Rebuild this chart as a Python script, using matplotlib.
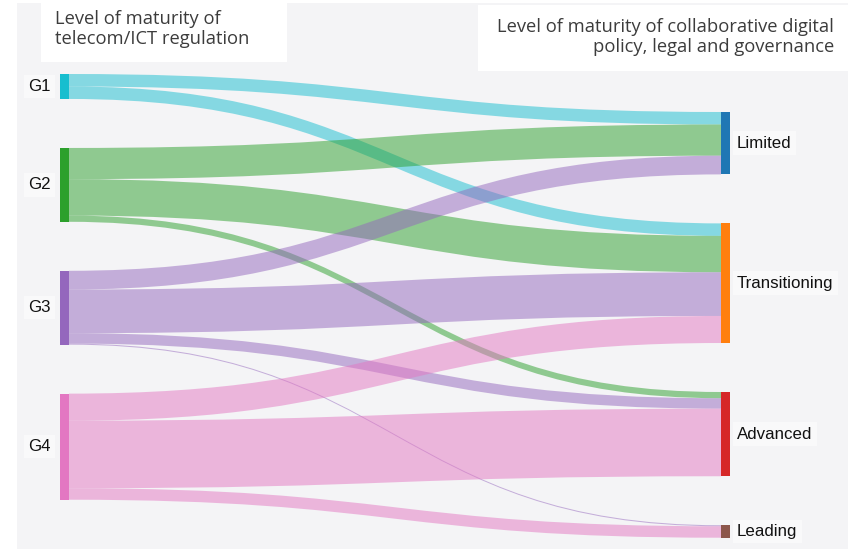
import matplotlib
matplotlib.use("Agg")
import matplotlib.pyplot as plt
from matplotlib.patches import Rectangle, PathPatch
from matplotlib.path import Path
import numpy as np

# ---- data ----
sources = ["G1", "G2", "G3", "G4"]
targets = ["Limited", "Transitioning", "Advanced", "Leading"]
# flow values (rows: sources, cols: targets)
flow_G1 = [6, 6, 0, 0]
flow_G2 = [15, 17.5, 3, 0]
flow_G3 = [9, 21, 5, 0.5]
flow_G4 = [0, 13, 32.5, 5.5]
flows = np.array([flow_G1, flow_G2, flow_G3, flow_G4], dtype=float)

src_colors = ["#17becf", "#2ca02c", "#9467bd", "#e377c2"]
tgt_colors = ["#1f77b4", "#ff7f0e", "#d62728", "#8c564b"]

title_left = "Level of maturity of\ntelecom/ICT regulation"
title_right = "Level of maturity of collaborative digital\npolicy, legal and governance"

# ---- layout (pixel space) ----
W, H = 854, 550
scale = 2.08          # px per unit
gap = 49
x_left0, x_left1 = 60, 69
x_right0, x_right1 = 721, 730
top_left, top_right = 74, 112

fig = plt.figure(figsize=(W / 100, H / 100), dpi=100)
fig.patch.set_facecolor("white")
ax = fig.add_axes([0, 0, 1, 1])
ax.set_xlim(0, W)
ax.set_ylim(H, 0)
ax.axis("off")

ax.add_patch(Rectangle((17, 3), 831, 546, facecolor="#f4f4f6", edgecolor="none", zorder=0))

src_tot = flows.sum(axis=1)
tgt_tot = flows.sum(axis=0)

src_y = []
y = top_left
for t in src_tot:
    src_y.append(y)
    y += t * scale + gap
tgt_y = []
y = top_right
for t in tgt_tot:
    tgt_y.append(y)
    y += t * scale + gap

# links
src_off = list(src_y)
tgt_off = list(tgt_y)
link_specs = []
for i in range(len(sources)):
    for j in range(len(targets)):
        v = flows[i, j]
        if v <= 0:
            continue
        h = v * scale
        s0 = src_off[i]; src_off[i] += h
        link_specs.append([i, j, s0, h])
for j in range(len(targets)):
    for spec in link_specs:
        if spec[1] == j:
            spec.append(tgt_off[j])
            tgt_off[j] += spec[3]

xm = (x_left1 + x_right0) / 2
for i, j, s0, h, t0 in link_specs:
    verts = [(x_left1, s0), (xm, s0), (xm, t0), (x_right0, t0),
             (x_right0, t0 + h), (xm, t0 + h), (xm, s0 + h), (x_left1, s0 + h),
             (x_left1, s0)]
    codes = [Path.MOVETO, Path.CURVE4, Path.CURVE4, Path.CURVE4,
             Path.LINETO, Path.CURVE4, Path.CURVE4, Path.CURVE4, Path.CLOSEPOLY]
    ax.add_patch(PathPatch(Path(verts, codes), facecolor=src_colors[i], alpha=0.5,
                           edgecolor="none", zorder=2))

# nodes
lab_font = ["Liberation Sans", "DejaVu Sans"]
bb = dict(boxstyle="square,pad=0.25", facecolor="white", alpha=0.5, edgecolor="none")
for i, name in enumerate(sources):
    h = src_tot[i] * scale
    ax.add_patch(Rectangle((x_left0, src_y[i]), x_left1 - x_left0, h,
                           facecolor=src_colors[i], edgecolor="none", zorder=3))
    ax.text(x_left0 - 9, src_y[i] + h / 2, name, ha="right", va="center",
            fontsize=12.2, family=lab_font, color="#111111", bbox=bb, zorder=4)
for j, name in enumerate(targets):
    h = tgt_tot[j] * scale
    ax.add_patch(Rectangle((x_right0, tgt_y[j]), x_right1 - x_right0, h,
                           facecolor=tgt_colors[j], edgecolor="none", zorder=3))
    ax.text(x_right1 + 7, tgt_y[j] + h / 2, name, ha="left", va="center",
            fontsize=12.2, family=lab_font, color="#111111", bbox=bb, zorder=4)

# titles
title_font = ["Open Sans", "DejaVu Sans"]
ax.add_patch(Rectangle((41, 0), 246, 62, facecolor="white", edgecolor="none", zorder=5))
ax.text(55, 29, title_left, ha="left", va="center", fontsize=13.2, family=title_font,
        color="#3c3c3c", linespacing=1.1, zorder=6)
ax.add_patch(Rectangle((478, 5), 370, 66, facecolor="white", edgecolor="none", zorder=5))
ax.text(834, 37, title_right, ha="right", va="center", fontsize=13.2, family=title_font,
        color="#3c3c3c", linespacing=1.2, multialignment="right", zorder=6)

fig.savefig("out.png", dpi=100, facecolor="white")
